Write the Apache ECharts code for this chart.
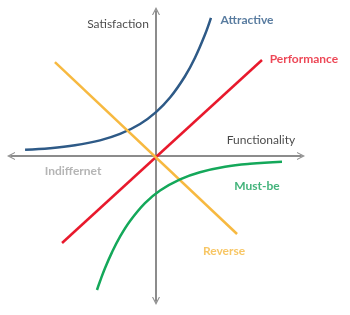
<!DOCTYPE html>
<html>
<head>
<meta charset="utf-8">
<script src="https://cdn.jsdelivr.net/npm/echarts@6/dist/echarts.min.js"></script>
<style>html,body{margin:0;padding:0;background:#fff}#c{width:350px;height:315px}</style>
</head>
<body>
<div id="c"></div>
<script>
// Curves in chart units (origin at axes crossing, axes span about -10..10)
var attractive = [[-9.03,0.43],[-7.31,0.54],[-5.59,0.74],[-3.86,1.08],[-2.48,1.52],[-1.10,2.21],[0,3.03],[0.97,4.03],[2.0,5.50],[2.69,6.78],[3.38,8.38],[3.79,9.53]];
var performance = [[-6.48,-6.0],[7.31,6.62]];
var reverse = [[-6.97,6.48],[5.59,-5.38]];
var mustBe = [[-4.07,-9.24],[-3.86,-8.64],[-3.52,-7.74],[-3.03,-6.63],[-2.48,-5.56],[-1.79,-4.48],[-0.76,-3.25],[0.28,-2.38],[1.66,-1.61],[3.03,-1.12],[4.76,-0.74],[6.48,-0.54],[8.69,-0.40]];
var labelNames = ['Satisfaction','Attractive','Performance','Functionality','Indiffernet','Must-be','Reverse'];
var labelPos = [[-2.62,9.10],[6.28,9.38],[10.2,6.69],[7.24,1.10],[-5.72,-1.03],[6.97,-2.07],[4.69,-6.55]];
var labelColors = ['#1a1a1a','#2E5A87','#E8192C','#1a1a1a','#A3A3A3','#14A05A','#F5B83F'];
var labelBold = [false,true,true,false,true,true,true];

var chart = echarts.init(document.getElementById('c'));
var arrow = 'path://M0,10 L5,0 L10,10 L8.6,10 L5,3 L1.4,10 Z';
function axis(){
  return {type:'value',min:-10,max:10,
    axisLine:{onZero:true,lineStyle:{color:'#8C8C8C',width:2},symbol:[arrow,arrow],symbolSize:[9,8]},
    axisTick:{show:false},axisLabel:{show:false},splitLine:{show:false}};
}
function line(data,color){
  return {type:'line',data:data,smooth:0.4,symbol:'none',lineStyle:{color:color,width:2.5},z:3};
}
var labelData = labelNames.map(function(n,i){
  return {value:labelPos[i],name:n,label:{color:labelColors[i],fontWeight:labelBold[i]?'bold':'normal'}};
});
chart.setOption({
  animation:false,
  grid:{left:11,top:11,width:290,height:290},
  xAxis:axis(),
  yAxis:axis(),
  series:[
    line(attractive,'#2E5A87'),
    line(performance,'#E8192C'),
    line(reverse,'#F7B940'),
    line(mustBe,'#14A85A'),
    {type:'scatter',data:labelData,symbolSize:0,clip:false,z:5,
      label:{show:true,position:'inside',formatter:function(p){return p.name;},fontFamily:'Lato',fontSize:12}}
  ]
});
</script>
</body>
</html>
